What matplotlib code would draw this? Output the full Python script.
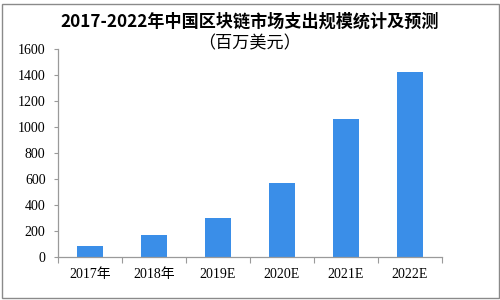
import numpy as np
import matplotlib
matplotlib.use("Agg")
import matplotlib.pyplot as plt
from matplotlib.patches import Rectangle

plt.rcParams["font.family"] = ["Liberation Serif", "Noto Sans CJK SC", "DejaVu Sans"]

years = ["2017年", "2018年", "2019E", "2020E", "2021E", "2022E"]
spend = [85, 168, 300, 570, 1060, 1420]
y_ticks = [0, 200, 400, 600, 800, 1000, 1200, 1400, 1600]

BAR = "#3A8EE8"
AXIS = "#9a9a9a"

fig = plt.figure(figsize=(5, 3), dpi=100)
ax = fig.add_axes([0.116, 0.1433, 0.768, 0.6934])

x = np.arange(len(years))
ax.bar(x, spend, width=0.42, color=BAR)

ax.set_xlim(-0.5, len(years) - 0.5)
ax.set_ylim(0, 1600)
ax.set_yticks(y_ticks)
ax.set_yticklabels([str(v) for v in y_ticks], fontsize=10)

# category labels centred, tick marks between categories
ax.set_xticks(x)
ax.set_xticklabels(years, fontsize=10)
ax.tick_params(axis="x", which="major", length=0, pad=8)
ax.set_xticks(np.arange(-0.5, len(years)), minor=True)
ax.tick_params(axis="x", which="minor", length=4, color=AXIS, width=0.8)
ax.tick_params(axis="y", length=3, color=AXIS, width=0.8, pad=6)

for s in ["top", "right"]:
    ax.spines[s].set_visible(False)
for s in ["left", "bottom"]:
    ax.spines[s].set_color(AXIS)
    ax.spines[s].set_linewidth(0.9)

fig.text(0.5, 0.927, "2017-2022年中国区块链市场支出规模统计及预测",
         ha="center", va="center", fontsize=12.3, fontweight="bold",
         family=["Noto Sans CJK SC", "DejaVu Sans"])
fig.text(0.5, 0.855, "（百万美元）", ha="center", va="center", fontsize=12.3,
         family=["Noto Sans CJK SC", "DejaVu Sans"])

# thin grey frame around the picture
fig.patches.append(Rectangle((0.003, 0.006), 0.994, 0.982, transform=fig.transFigure,
                             fill=False, edgecolor="#8a8a8a", linewidth=1.0))

fig.savefig("out.png", dpi=100)
